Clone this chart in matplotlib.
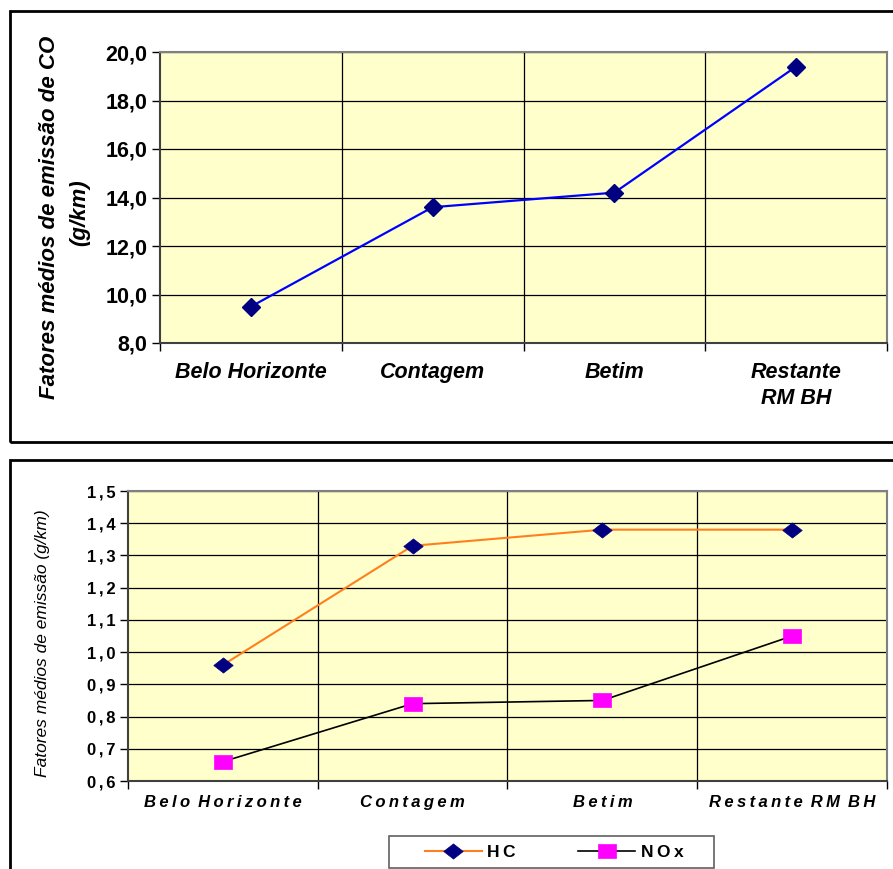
import matplotlib
matplotlib.use("Agg")
import matplotlib.pyplot as plt
from matplotlib.patches import Rectangle

W, H = 893, 869

cats_top = ["Belo Horizonte", "Contagem", "Betim", "Restante\nRM BH"]
co_vals = [9.5, 13.6, 14.2, 19.4]
yticks_top = [8.0, 10.0, 12.0, 14.0, 16.0, 18.0, 20.0]

cats_bot = ["Belo Horizonte", "Contagem", "Betim", "Restante RM BH"]
hc_vals = [0.96, 1.33, 1.38, 1.38]
nox_vals = [0.66, 0.84, 0.85, 1.05]
yticks_bot = [0.6, 0.7, 0.8, 0.9, 1.0, 1.1, 1.2, 1.3, 1.4, 1.5]
series_names = ["HC", "NOx"]

TH = "\u2009"
SIX = "\u2006"

def spaced(s, sep=TH):
    words = s.split(" ")
    return (sep + " ").join(sep.join(list(w)) for w in words)

plt.rcParams['font.family'] = ['Liberation Sans', 'DejaVu Sans']

fig = plt.figure(figsize=(W / 100, H / 100), dpi=100)
fig.patch.set_facecolor("white")

def fx(px):
    return px / W

def fy(py):
    return 1 - py / H

# outer frames
fig.patches.append(Rectangle((fx(10), fy(442)), fx(900 - 10), (442 - 11) / H,
                             transform=fig.transFigure, fill=False,
                             edgecolor="black", linewidth=2))
fig.patches.append(Rectangle((fx(10), fy(880)), fx(900 - 10), (880 - 460) / H,
                             transform=fig.transFigure, fill=False,
                             edgecolor="black", linewidth=2))

def style_axes(ax, n):
    ax.set_facecolor("#FFFFCC")
    ax.set_xlim(-0.5, n - 0.5)
    ax.set_xticks([i - 0.5 for i in range(n + 1)])
    ax.set_xticklabels([])
    ax.set_xticks(range(n), minor=True)
    ax.tick_params(axis="x", which="major", direction="out", length=6, width=1, color="black")
    ax.tick_params(axis="x", which="minor", length=0)
    ax.tick_params(axis="y", direction="out", length=6, width=1, color="black")
    for x in [i + 0.5 for i in range(n - 1)]:
        ax.axvline(x, color="black", linewidth=0.9, zorder=1)
    ax.yaxis.grid(True, color="black", linewidth=0.9, zorder=1)
    ax.set_axisbelow(True)
    for s in ["top", "right"]:
        ax.spines[s].set_color("#808080")
        ax.spines[s].set_linewidth(1.5)
    ax.spines["left"].set_color("#404040")
    ax.spines["left"].set_linewidth(1.5)
    ax.spines["bottom"].set_color("#404040")
    ax.spines["bottom"].set_linewidth(1.5)

# custom marker shapes (wide diamond, wide square)
wide_diamond = [(-1, 0), (0, 0.78), (1, 0), (0, -0.78), (-1, 0)]
wide_square = [(-1, -0.75), (1, -0.75), (1, 0.75), (-1, 0.75), (-1, -0.75)]

# ---- top chart ----
ax1 = fig.add_axes([fx(160), fy(343), fx(887 - 160), (343 - 52) / H])
style_axes(ax1, len(cats_top))
ax1.set_ylim(8, 20)
ax1.set_yticks(yticks_top)
ax1.set_yticklabels([f"{v:.1f}".replace(".", ",") for v in yticks_top],
                    fontsize=15.5, fontweight="bold")
ax1.tick_params(axis="y", pad=3)
ax1.set_xticklabels(cats_top, minor=True, fontsize=15.5, fontweight="bold",
                    fontstyle="italic", va="top", linespacing=1.3)
ax1.tick_params(axis="x", which="minor", pad=14)
ax1.plot(range(len(cats_top)), co_vals, color="#0000FF", linewidth=1.6,
         marker="D", markersize=9, markerfacecolor="#000080",
         markeredgecolor="#000080", zorder=3, clip_on=False)
fig.text(fx(50), fy(217), "Fatores médios de emissão de CO", rotation=90,
         ha="center", va="center", fontsize=16, fontweight="bold", fontstyle="italic")
fig.text(fx(80), fy(213), "(g/km)", rotation=90,
         ha="center", va="center", fontsize=16, fontweight="bold", fontstyle="italic")

# ---- bottom chart ----
ax2 = fig.add_axes([fx(128), fy(781), fx(887 - 128), (781 - 491) / H])
style_axes(ax2, len(cats_bot))
ax2.set_ylim(0.6, 1.5)
ax2.set_yticks(yticks_bot)
ax2.set_yticklabels([spaced(f"{v:.1f}".replace(".", ","), SIX) for v in yticks_bot],
                    fontsize=12, fontweight="bold")
ax2.tick_params(axis="y", pad=3)
ax2.set_xticklabels([spaced(c) for c in cats_bot], minor=True, fontsize=12,
                    fontweight="bold", fontstyle="italic")
ax2.tick_params(axis="x", which="minor", pad=10)
hc_line, = ax2.plot(range(len(cats_bot)), hc_vals, color="#FF7F1E", linewidth=1.5,
                    marker=wide_diamond, markersize=14, markerfacecolor="#000080",
                    markeredgecolor="#000080", markeredgewidth=0.5, zorder=3)
nox_line, = ax2.plot(range(len(cats_bot)), nox_vals, color="black", linewidth=1.2,
                     marker=wide_square, markersize=13, markerfacecolor="#FF00FF",
                     markeredgecolor="#FF00FF", markeredgewidth=0.5, zorder=3)
fig.text(fx(43), fy(643), "Fatores médios de emissão (g/km)", rotation=90,
         ha="center", va="center", fontsize=12.5, fontstyle="italic")

# legend box + frameless legend
fig.patches.append(Rectangle((fx(389), fy(868)), fx(714 - 389), (868 - 836) / H,
                             transform=fig.transFigure, fill=False,
                             edgecolor="#606060", linewidth=1.2))
leg = fig.legend(handles=[hc_line, nox_line], labels=[spaced(s) for s in series_names],
                 loc="center", bbox_to_anchor=(fx(554), fy(852)),
                 ncol=2, frameon=False,
                 handlelength=3.3, handletextpad=0.3, columnspacing=3.6,
                 borderaxespad=0, borderpad=0,
                 prop={"weight": "bold", "size": 12.5})

fig.savefig("out.png", dpi=100, facecolor="white")
